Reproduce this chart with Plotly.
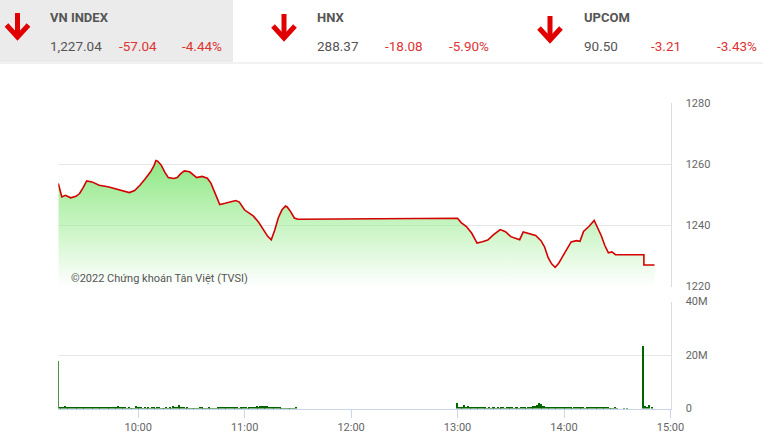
import pandas as pd
import plotly.graph_objects as go

W, H = 763, 443
DAY = "2022-05-09 "

# ---------------- data ----------------
header_names = ["VN INDEX", "HNX", "UPCOM"]
header_values = ["1,227.04", "288.37", "90.50"]
header_changes = ["-57.04", "-18.08", "-3.21"]
header_pcts = ["-4.44%", "-5.90%", "-3.43%"]

price_times = ["09:15", "09:16", "09:17", "09:19", "09:22", "09:25", "09:27", "09:29", "09:31", "09:34",
               "09:38", "09:43", "09:48", "09:52", "09:55", "09:58", "10:01", "10:04", "10:07", "10:09",
               "10:10", "10:11", "10:13", "10:15", "10:17", "10:20", "10:22", "10:24", "10:26", "10:29",
               "10:31", "10:33", "10:36", "10:39", "10:41", "10:43", "10:46", "10:49", "10:52", "10:55",
               "10:57", "11:00", "11:03", "11:05", "11:08", "11:11", "11:13", "11:15", "11:17", "11:19",
               "11:21", "11:23", "11:24", "11:26", "11:28", "11:30", "13:00", "13:02", "13:05", "13:08",
               "13:11", "13:14", "13:17", "13:20", "13:24", "13:27", "13:30", "13:33", "13:35", "13:37",
               "13:40", "13:44", "13:47", "13:49", "13:51", "13:53", "13:55", "13:57", "13:59", "14:02",
               "14:04", "14:07", "14:09", "14:11", "14:14", "14:17", "14:19", "14:21", "14:23", "14:25",
               "14:27", "14:29", "14:45", "14:45", "14:51"]
price_values = [1253.7, 1251.0, 1249.3, 1249.8, 1249.0, 1249.5, 1250.4, 1252.3, 1254.5, 1254.2,
                1253.1, 1252.6, 1251.8, 1251.0, 1250.7, 1251.4, 1253.1, 1255.2, 1257.5, 1259.6,
                1261.2, 1261.0, 1259.7, 1257.4, 1255.6, 1255.3, 1255.6, 1256.9, 1257.8, 1257.5,
                1256.4, 1255.6, 1256.0, 1255.4, 1253.8, 1251.2, 1246.8, 1247.2, 1247.7, 1248.1,
                1247.6, 1245.0, 1243.8, 1243.0, 1240.9, 1238.2, 1236.4, 1235.3, 1238.5, 1242.5,
                1245.0, 1246.3, 1246.0, 1244.4, 1242.4, 1242.0, 1242.3, 1240.9, 1239.6, 1237.4,
                1234.2, 1234.6, 1235.2, 1236.8, 1238.6, 1237.9, 1236.3, 1235.7, 1235.3, 1237.8,
                1237.4, 1236.7, 1235.0, 1233.0, 1229.5, 1227.4, 1226.3, 1227.6, 1229.6, 1232.8,
                1234.6, 1235.0, 1234.8, 1238.0, 1239.6, 1241.6, 1239.2, 1236.6, 1233.4, 1231.0,
                1231.3, 1230.4, 1230.4, 1227.04, 1227.04]

# volume in millions, one bar per minute
vol_morning_start = "09:15"
vol_morning = [18.0,
               0.9, 0.7, 0.8, 1.0, 0.6, 0.8, 0.7, 0.9, 0.6, 0.7,
               0.6, 0.5, 0.7, 0.6, 0.5, 0.6, 0.8, 0.5, 0.6, 0.5,
               0.5, 0.6, 0.4, 0.5, 0.7, 0.5, 0.4, 0.6, 0.5, 0.4,
               0.5, 0.6, 0.4, 1.0, 0.5, 0.4, 0.6, 0.5, 0.3, 0.4,
               0.3, 0.3, 0.2, 1.2, 0.9, 0.6, 0.4, 0.3, 0.5, 0.3,
               0.4, 0.3, 0.8, 0.4, 0.3, 0.5, 0.4, 0.3, 0.2, 0.3,
               0.6, 0.3, 0.4, 0.3, 1.0, 0.5, 0.4, 1.6, 0.6, 0.5,
               0.4, 0.3, 0.5, 0.3, 0.2, 0.3, 0.2, 0.3, 0.2, 0.6,
               0.4, 0.2, 0.3, 0.2, 0.9, 0.3, 0.2, 0.3, 0.2, 0.4,
               0.5, 0.7, 0.8, 0.9, 0.7, 0.8, 0.6, 0.5, 0.6, 0.4,
               0.6, 0.3, 0.7, 0.5, 0.9, 0.4, 0.3, 0.8, 0.5, 0.7,
               0.8, 1.0, 0.9, 1.1, 1.3, 1.2, 1.0, 1.1, 0.9, 0.8,
               0.7, 0.9, 0.6, 0.5, 0.4, 0.3, 0.2, 0.3, 0.2, 0.2,
               0.2, 0.3, 0.2, 0.6]
vol_afternoon_start = "13:00"
vol_afternoon = [2.4, 0.5, 0.6, 0.9, 1.4, 0.8, 1.0, 0.7, 0.9, 0.8,
                 0.7, 0.6, 0.8, 0.5, 0.6, 0.4, 0.5, 0.3, 0.6, 0.3,
                 0.4, 0.7, 0.3, 0.4, 0.3, 0.5, 0.6, 0.3, 0.4, 0.5,
                 0.4, 0.6, 0.3, 0.5, 0.4, 0.3, 0.4, 0.6, 0.5, 0.3,
                 0.4, 0.5, 0.8, 1.0, 1.3, 1.6, 2.4, 1.8, 1.2, 1.0,
                 0.9, 0.8, 0.7, 0.6, 0.8, 0.7, 0.5, 0.6, 0.7, 0.5,
                 0.6, 0.4, 0.5, 0.7, 0.5, 0.3, 0.6, 0.5, 0.4, 0.6,
                 0.5, 0.4, 0.3, 0.7, 0.5, 0.6, 0.8, 0.7, 0.6, 0.5,
                 0.7, 0.6, 0.8, 0.7, 0.6, 0.5, 0.3, 0.2, 0.1, 0.4,
                 0.3]
vol_late_times = ["14:34", "14:36", "14:45", "14:46", "14:47", "14:48", "14:50"]
vol_late = [0.3, 0.2, 23.5, 1.2, 0.8, 1.5, 0.4]

x_ticks = ["10:00", "11:00", "12:00", "13:00", "14:00", "15:00"]
price_ticks = [1220, 1240, 1260, 1280]
vol_ticks = [0, 20, 40]
vol_tick_text = ["0", "20M", "40M"]

# ---------------- build ----------------
px_x = lambda p: p / W
px_y = lambda p: 1 - p / H

pt = pd.to_datetime([DAY + t for t in price_times])
vt = list(pd.date_range(DAY + vol_morning_start, periods=len(vol_morning), freq="min")) + \
     list(pd.date_range(DAY + vol_afternoon_start, periods=len(vol_afternoon), freq="min")) + \
     list(pd.to_datetime([DAY + t for t in vol_late_times]))
vv = vol_morning + vol_afternoon + vol_late

fig = go.Figure()
fig.add_trace(go.Scatter(
    x=pt, y=price_values, mode="lines",
    line=dict(color="#d40000", width=1.6),
    fill="tozeroy",
    fillgradient=dict(type="vertical", start=1220, stop=1262,
                      colorscale=[[0, "rgba(150,235,140,0.0)"], [0.5, "rgba(150,235,140,0.55)"],
                                  [1, "rgba(140,230,130,1)"]]),
    xaxis="x", yaxis="y", hoverinfo="skip"))
fig.add_trace(go.Bar(
    x=vt, y=vv, marker=dict(color="#006400", line=dict(width=0)),
    width=45000, xaxis="x2", yaxis="y2", hoverinfo="skip"))

xr = [DAY + "09:15", DAY + "15:00"]
dom_x = [px_x(58.3), px_x(670.5)]
grid = "#e6e6e6"
axcol = "#ccd6eb"
tickfont = dict(family="Roboto", size=11, color="#666666")

fig.update_layout(
    width=W, height=H, margin=dict(l=0, r=0, t=0, b=0, pad=0, autoexpand=False),
    paper_bgcolor="white", plot_bgcolor="white", showlegend=False,
    font=dict(family="Roboto"),
    xaxis=dict(domain=dom_x, range=xr, type="date", showticklabels=False, showgrid=False,
               zeroline=False, showline=False, anchor="y", automargin=False),
    yaxis=dict(domain=[px_y(286.5), px_y(103)], range=[1220, 1280], side="right",
               tickvals=price_ticks, showgrid=True, gridcolor=grid, gridwidth=1,
               zeroline=False, showline=True, linecolor="#d8dde6", linewidth=1,
               ticks="", ticklabelstandoff=12, tickfont=tickfont, anchor="x", automargin=False),
    xaxis2=dict(domain=dom_x, range=xr, type="date", tickvals=[DAY + t for t in x_ticks],
                ticktext=x_ticks, showgrid=False, zeroline=False, showline=True,
                linecolor=axcol, linewidth=1, ticks="outside", ticklen=8, tickcolor=axcol,
                tickfont=tickfont, anchor="y2", automargin=False),
    yaxis2=dict(domain=[px_y(408.5), px_y(301.5)], range=[0, 40], side="right",
                tickvals=vol_ticks, ticktext=vol_tick_text, showgrid=True, gridcolor=grid,
                zeroline=False, showline=True, linecolor="#d8dde6", linewidth=1,
                ticks="", ticklabelstandoff=12, tickfont=tickfont, anchor="x2", automargin=False),
    bargap=0,
)

# header background and divider
shapes = [
    dict(type="rect", xref="paper", yref="paper", x0=0, x1=px_x(233), y0=px_y(62), y1=1,
         fillcolor="#ebebeb", line=dict(width=0), layer="below"),
    dict(type="line", xref="paper", yref="paper", x0=0, x1=1, y0=px_y(63), y1=px_y(63),
         line=dict(color="#e4e4e4", width=1)),
]
arrow_cx = [17.5, 284, 550]
arrow_top = [13, 14, 16]
for cx, top in zip(arrow_cx, arrow_top):
    stem = f"M {px_x(cx)},{px_y(top)} L {px_x(cx)},{px_y(top + 23)}"
    head = (f"M {px_x(cx - 11)},{px_y(top + 12)} L {px_x(cx)},{px_y(top + 24)} "
            f"L {px_x(cx + 11)},{px_y(top + 12)}")
    for p in (stem, head):
        shapes.append(dict(type="path", xref="paper", yref="paper", path=p,
                           line=dict(color="#e00000", width=5)))
fig.update_layout(shapes=shapes)

name_x = [48, 315, 582]
chg_x = [117, 383, 649]
pct_right_x = [224, 491, 759]
ann = []
for i in range(3):
    ann.append(dict(x=px_x(name_x[i]), y=px_y(18), text=f"<b>{header_names[i]}</b>",
                    font=dict(family="Roboto", size=13, color="#555555")))
    ann.append(dict(x=px_x(name_x[i]), y=px_y(46), text=header_values[i],
                    font=dict(family="Roboto", size=13.5, color="#555555")))
    ann.append(dict(x=px_x(chg_x[i]), y=px_y(46), text=header_changes[i],
                    font=dict(family="Roboto", size=13.5, color="#dd3333")))
    ann.append(dict(x=px_x(pct_right_x[i]), y=px_y(46), text=header_pcts[i], xanchor="right",
                    font=dict(family="Roboto", size=13.5, color="#dd3333")))
ann.append(dict(x=px_x(69), y=px_y(278), text="©2022 Chứng khoán Tân Việt (TVSI)",
                font=dict(family="Roboto", size=11, color="#555555")))
for a in ann:
    a.setdefault("xanchor", "left")
    a.update(xref="paper", yref="paper", yanchor="middle", showarrow=False)
fig.update_layout(annotations=ann)

fig.write_html("out.html", config={"displayModeBar": False},
               post_script="document.body.style.margin='0';document.body.style.padding='0';"
                           "document.documentElement.style.overflow='hidden';")
